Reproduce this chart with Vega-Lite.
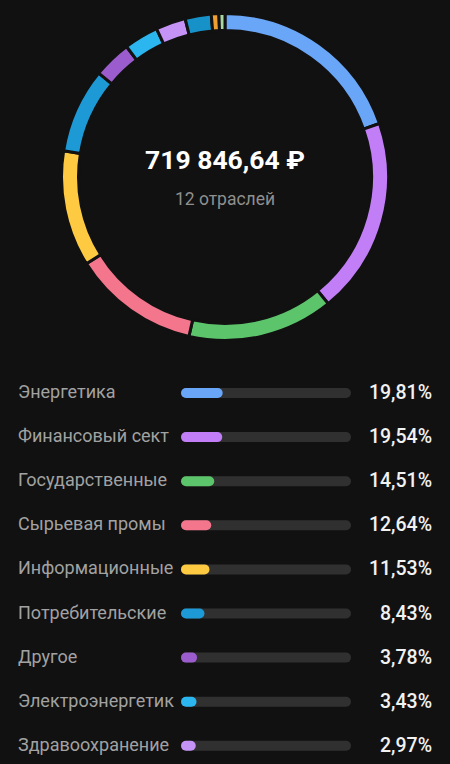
{
  "$schema": "https://vega.github.io/schema/vega-lite/v6.json",
  "background": "#111111",
  "padding": 0,
  "autosize": {"type": "pad"},
  "spacing": 0,
  "config": {
    "view": {"stroke": null},
    "font": "Roboto",
    "locale": {"number": {"decimal": ",", "thousands": " ", "grouping": [3], "currency": ["", " ₽"]}}
  },
  "datasets": {
    "sectors": [
      {"rank": 1, "sector": "Энергетика", "share": 0.1981},
      {"rank": 2, "sector": "Финансовый сектор", "share": 0.1954},
      {"rank": 3, "sector": "Государственные бумаги", "share": 0.1451},
      {"rank": 4, "sector": "Сырьевая промышленность", "share": 0.1264},
      {"rank": 5, "sector": "Информационные технологии", "share": 0.1153},
      {"rank": 6, "sector": "Потребительские товары", "share": 0.0843},
      {"rank": 7, "sector": "Другое", "share": 0.0378},
      {"rank": 8, "sector": "Электроэнергетика", "share": 0.0343},
      {"rank": 9, "sector": "Здравоохранение", "share": 0.0297},
      {"rank": 10, "sector": "Телекоммуникации", "share": 0.026},
      {"rank": 11, "sector": "Недвижимость", "share": 0.0075},
      {"rank": 12, "sector": "Промышленность", "share": 0.006}
    ],
    "summary": [{"total": 719846.64, "caption": "12 отраслей"}]
  },
  "vconcat": [
    {
      "width": 450,
      "height": 354,
      "layer": [
        {
          "data": {"name": "sectors"},
          "mark": {"type": "arc", "outerRadius": 163.5, "innerRadius": 146.5, "stroke": "#111111", "strokeWidth": 3},
          "encoding": {
            "theta": {"field": "share", "type": "quantitative", "stack": true},
            "order": {"field": "rank", "type": "quantitative"},
            "color": {
              "field": "sector", "type": "nominal", "legend": null,
              "scale": {
                "domain": ["Энергетика", "Финансовый сектор", "Государственные бумаги", "Сырьевая промышленность", "Информационные технологии", "Потребительские товары", "Другое", "Электроэнергетика", "Здравоохранение", "Телекоммуникации", "Недвижимость", "Промышленность"],
                "range": ["#6aa6f8", "#c17ef6", "#5cc46a", "#f4768d", "#fdca42", "#1d9ad6", "#9b5ccd", "#2bb6ef", "#c592f6", "#1792c8", "#f0a030", "#a8d8a0"]
              }
            }
          }
        },
        {
          "data": {"name": "summary"},
          "mark": {"type": "text", "fontSize": 26.5, "fontWeight": "bold", "fill": "#ffffff", "dy": -16, "baseline": "middle"},
          "encoding": {"text": {"field": "total", "type": "quantitative", "format": "$,.2f"}}
        },
        {
          "data": {"name": "summary"},
          "mark": {"type": "text", "fontSize": 17.5, "fill": "#8f8f8f", "dy": 23, "baseline": "middle"},
          "encoding": {"text": {"field": "caption", "type": "nominal"}}
        }
      ]
    },
    {
      "width": 450,
      "height": 410,
      "data": {"name": "sectors"},
      "transform": [{"filter": "datum.rank <= 9"}],
      "encoding": {
        "y": {"field": "sector", "type": "nominal", "sort": {"field": "rank", "op": "min"}, "scale": {"type": "point", "range": [39, 391.8], "padding": 0}, "axis": null}
      },
      "layer": [
        {
          "mark": {"type": "text", "align": "left", "baseline": "middle", "fontSize": 18, "fill": "#a2a2a2", "limit": 160, "ellipsis": "\u200b"},
          "encoding": {"x": {"value": 18}, "text": {"field": "sector", "type": "nominal"}}
        },
        {
          "mark": {"type": "rule", "strokeWidth": 10, "strokeCap": "round", "color": "#303030"},
          "encoding": {
            "x": {"datum": 1, "type": "quantitative", "scale": {"domain": [0, 1], "range": [186, 346]}, "axis": null},
            "x2": {"datum": 0}
          }
        },
        {
          "mark": {"type": "rule", "strokeWidth": 10, "strokeCap": "round"},
          "encoding": {
            "x": {"field": "share", "type": "quantitative"},
            "x2": {"datum": 0},
            "color": {"field": "sector", "type": "nominal", "legend": null}
          }
        },
        {
          "mark": {"type": "text", "align": "right", "baseline": "middle", "fontSize": 19.5, "fontWeight": 500, "fill": "#f2f2f2"},
          "encoding": {"x": {"value": 432}, "text": {"field": "share", "type": "quantitative", "format": ".2%"}}
        }
      ]
    }
  ]
}
